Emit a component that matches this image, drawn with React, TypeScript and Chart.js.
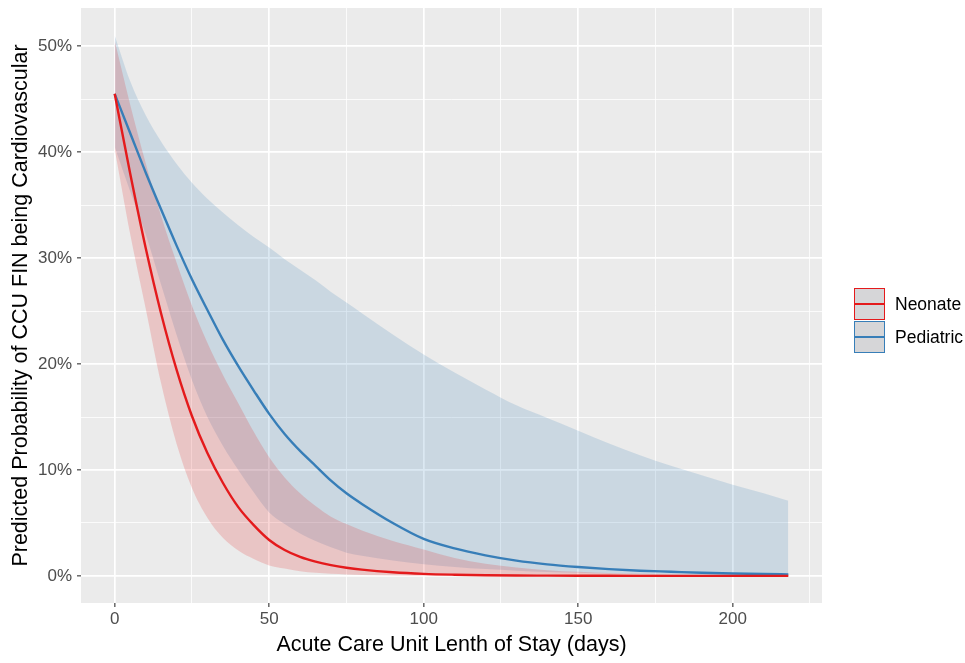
import React, { useEffect, useRef } from "react";
import { Chart, registerables } from "chart.js";

Chart.register(...registerables);

// ---- data ----
const days = [0, 5, 10, 15, 20, 25, 30, 35, 40, 45, 50, 55, 60, 65, 70, 75, 80, 90, 100, 110, 120, 130, 140, 150, 160, 170, 180, 190, 200, 210, 218];

const neonate = [45.5, 38.0, 31.0, 24.8, 19.5, 15.1, 11.6, 8.8, 6.5, 4.8, 3.4, 2.45, 1.8, 1.35, 1.02, 0.78, 0.6, 0.35, 0.2, 0.12, 0.07, 0.04, 0.03, 0.02, 0.015, 0.01, 0.01, 0.01, 0.01, 0.01, 0.01];
const neonateUpper = [50.5, 44.5, 39.0, 34.0, 29.6, 25.5, 22.0, 19.0, 16.3, 13.6, 11.2, 9.3, 7.8, 6.6, 5.6, 4.9, 4.3, 3.3, 2.5, 1.7, 1.15, 0.8, 0.55, 0.4, 0.28, 0.2, 0.14, 0.1, 0.07, 0.05, 0.04];
const neonateLower = [40.3, 32.3, 25.3, 18.2, 12.5, 8.3, 5.5, 3.6, 2.4, 1.6, 1.0, 0.7, 0.45, 0.3, 0.2, 0.14, 0.1, 0.05, 0.03, 0.01, 0.01, 0.01, 0.01, 0.01, 0.01, 0.01, 0.01, 0.01, 0.01, 0.01, 0.01];

const pediatric = [45.5, 41.8, 38.1, 34.6, 31.2, 28.0, 25.1, 22.3, 19.8, 17.5, 15.3, 13.4, 11.8, 10.4, 9.0, 7.8, 6.8, 5.0, 3.5, 2.6, 1.95, 1.45, 1.1, 0.85, 0.65, 0.5, 0.4, 0.3, 0.23, 0.18, 0.15];
const pediatricUpper = [51.0, 46.7, 43.5, 41.0, 38.9, 37.1, 35.6, 34.3, 33.1, 32.0, 31.0, 29.9, 28.9, 27.9, 26.8, 25.8, 24.8, 22.8, 20.9, 19.2, 17.6, 16.1, 14.9, 13.7, 12.5, 11.4, 10.4, 9.5, 8.6, 7.8, 7.1];
const pediatricLower = [40.5, 36.3, 32.3, 27.5, 22.8, 18.5, 15.0, 12.3, 10.0, 7.9, 6.0, 4.9, 4.0, 3.3, 2.7, 2.2, 1.9, 1.45, 1.1, 0.85, 0.65, 0.5, 0.38, 0.3, 0.23, 0.17, 0.13, 0.1, 0.08, 0.06, 0.05];

const seriesNames = ["Neonate", "Pediatric"];
const xTitle = "Acute Care Unit Lenth of Stay (days)";
const yTitle = "Predicted Probability of CCU FIN being Cardiovascular";

// ---- styles ----
const RED = "#E41A1C";
const BLUE = "#377EB8";
const RED_FILL = "rgba(228,26,28,0.18)";
const BLUE_FILL = "rgba(55,126,184,0.18)";
const FONT = "'Liberation Sans', Arial, Helvetica, sans-serif";

const pts = (arr: number[]) => days.map((d, i) => ({ x: d, y: arr[i] }));

export default function App() {
  const ref = useRef<HTMLCanvasElement>(null);

  useEffect(() => {
    if (!ref.current) return;
    const panelBg = {
      id: "panelBg",
      beforeDraw(chart: any) {
        const { ctx, chartArea: a } = chart;
        ctx.save();
        ctx.fillStyle = "#EBEBEB";
        ctx.fillRect(a.left, a.top, a.right - a.left, a.bottom - a.top);
        ctx.restore();
      },
    };
    const band = (data: number[], fill: any, color: string) => ({
      label: "",
      data: pts(data),
      borderWidth: 0,
      borderColor: "rgba(0,0,0,0)",
      backgroundColor: color,
      pointRadius: 0,
      fill,
      cubicInterpolationMode: "monotone" as const,
    });
    const chart = new Chart(ref.current, {
      type: "line",
      data: {
        datasets: [
          { label: seriesNames[0], data: pts(neonate), borderColor: RED, borderWidth: 2.4, pointRadius: 0, fill: false, cubicInterpolationMode: "monotone" },
          { label: seriesNames[1], data: pts(pediatric), borderColor: BLUE, borderWidth: 2.4, pointRadius: 0, fill: false, cubicInterpolationMode: "monotone" },
          band(neonateUpper, "+1", RED_FILL),
          band(neonateLower, false, "rgba(0,0,0,0)"),
          band(pediatricUpper, "+1", BLUE_FILL),
          band(pediatricLower, false, "rgba(0,0,0,0)"),
        ] as any,
      },
      options: {
        animation: false,
        responsive: false,
        layout: { padding: { left: 0, right: 143, top: 8, bottom: 0 } },
        plugins: {
          legend: { display: false },
          tooltip: { enabled: false },
          filler: { drawTime: "beforeDatasetsDraw" } as any,
        },
        scales: {
          x: {
            type: "linear",
            min: -10.9,
            max: 228.9,
            border: { display: false },
            afterFit(s: any) { s.height = 60; s.paddingLeft = 0; s.paddingRight = 0; },
            ticks: {
              stepSize: 25,
              includeBounds: false,
              autoSkip: false,
              maxRotation: 0,
              padding: 2,
              color: "#4D4D4D",
              font: { family: FONT, size: 17 },
              callback: (v: any) => (Number(v) % 50 === 0 ? String(v) : ""),
            },
            grid: {
              color: "#FFFFFF",
              lineWidth: (c: any) => (c.tick && c.tick.value % 50 === 0 ? 1.7 : 0.8),
              tickColor: (c: any) => (c.tick && c.tick.value % 50 === 0 ? "#333333" : "rgba(0,0,0,0)"),
              tickLength: 4,
              tickWidth: 1.1,
            },
            title: { display: true, text: xTitle, color: "#000000", font: { family: FONT, size: 21.5 }, padding: { top: 0, bottom: 5 } },
          },
          y: {
            type: "linear",
            min: -2.55,
            max: 53.6,
            border: { display: false },
            afterFit(s: any) { s.width = 81; s.paddingTop = 0; s.paddingBottom = 0; },
            ticks: {
              stepSize: 5,
              includeBounds: false,
              autoSkip: false,
              padding: 5,
              color: "#4D4D4D",
              font: { family: FONT, size: 17 },
              callback: (v: any) => (Number(v) % 10 === 0 ? `${v}%` : ""),
            },
            grid: {
              color: "#FFFFFF",
              lineWidth: (c: any) => (c.tick && c.tick.value % 10 === 0 ? 1.7 : 0.8),
              tickColor: (c: any) => (c.tick && c.tick.value % 10 === 0 ? "#333333" : "rgba(0,0,0,0)"),
              tickLength: 4,
              tickWidth: 1.1,
            },
            title: { display: true, text: yTitle, color: "#000000", font: { family: FONT, size: 21.5 }, padding: { top: 8, bottom: 0 } },
          },
        },
      },
      plugins: [panelBg],
    });
    return () => chart.destroy();
  }, []);

  const legendColors = [RED, BLUE];

  return (
    <div style={{ position: "absolute", left: 0, top: 0, width: 965, height: 663, background: "#FFFFFF" }}>
      <canvas ref={ref} width={965} height={663} style={{ display: "block" }} />
      {seriesNames.map((name, i) => (
        <div key={name} style={{ position: "absolute", left: 854, top: 288 + i * 33, height: 32, display: "flex", alignItems: "center" }}>
          <div style={{ width: 31, height: 32, boxSizing: "border-box", border: `1.5px solid ${legendColors[i]}`, background: "#D6D6D8", position: "relative" }}>
            <div style={{ position: "absolute", left: 0, right: 0, top: 14, height: 2.4, background: legendColors[i] }} />
          </div>
          <span style={{ marginLeft: 10, fontFamily: FONT, fontSize: 17.5, color: "#000000" }}>{name}</span>
        </div>
      ))}
    </div>
  );
}
